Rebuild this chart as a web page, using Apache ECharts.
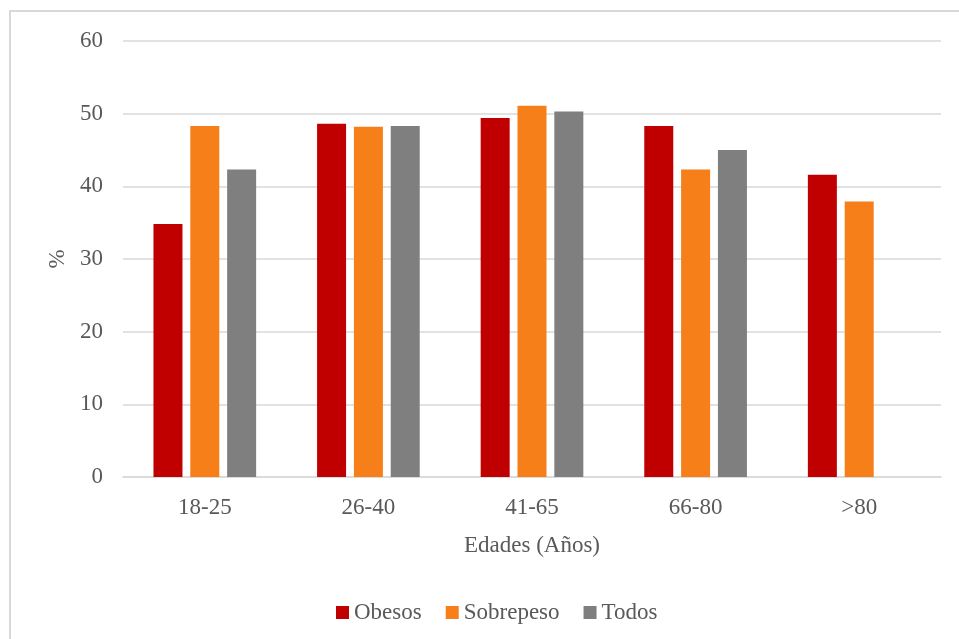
<!DOCTYPE html>
<html>
<head>
<meta charset="utf-8">
<script src="https://cdn.jsdelivr.net/npm/echarts@6/dist/echarts.min.js"></script>
<style>
  html, body { margin: 0; padding: 0; background: #ffffff; }
  #chart { width: 959px; height: 639px; }
</style>
</head>
<body>
<div id="chart"></div>
<script>
// Age groups and percentages per group
const categories = ['18-25', '26-40', '41-65', '66-80', '>80'];
const obesos = [34.8, 48.6, 49.4, 48.3, 41.6];
const sobrepeso = [48.3, 48.2, 51.1, 42.3, 37.9];
const todos = [42.3, 48.3, 50.3, 45.0, null];
const yTicks = { min: 0, max: 60, interval: 10 };

const FONT = '"Liberation Serif", "Times New Roman", serif';
const FS = 23;
const TEXT = '#595959';
const LINE = '#d9d9d9';

const chart = echarts.init(document.getElementById('chart'), null, { renderer: 'canvas' });

chart.setOption({
  backgroundColor: '#ffffff',
  animation: false,
  graphic: [{
    type: 'rect',
    shape: { x: 10, y: 11, width: 1000, height: 700 },
    style: { fill: 'none', stroke: LINE, lineWidth: 2 },
    silent: true
  }],
  grid: { left: 123, right: 18, top: 41, bottom: 162 },
  legend: {
    left: 331, top: 596,
    itemWidth: 13, itemHeight: 13, itemGap: 24,
    icon: 'rect',
    textStyle: { fontFamily: FONT, fontSize: FS, color: TEXT },
    data: ['Obesos', 'Sobrepeso', 'Todos']
  },
  xAxis: {
    type: 'category',
    data: categories,
    name: 'Edades (Años)',
    nameLocation: 'middle',
    nameGap: 57,
    nameTextStyle: { fontFamily: FONT, fontSize: FS, color: TEXT },
    axisLine: { lineStyle: { color: LINE, width: 1.5 } },
    axisTick: { show: false },
    axisLabel: { fontFamily: FONT, fontSize: FS, color: TEXT, margin: 19 }
  },
  yAxis: {
    type: 'value',
    min: yTicks.min, max: yTicks.max, interval: yTicks.interval,
    name: '%',
    nameLocation: 'middle',
    nameGap: 53,
    nameRotate: 90,
    nameTextStyle: { fontFamily: FONT, fontSize: FS, color: TEXT },
    axisLine: { show: false },
    axisTick: { show: false },
    axisLabel: { fontFamily: FONT, fontSize: FS, color: TEXT, margin: 20 },
    splitLine: { lineStyle: { color: LINE, width: 1.5 } }
  },
  series: [
    { name: 'Obesos', type: 'bar', data: obesos, itemStyle: { color: '#c00000' },
      barWidth: 29, barGap: '27%', barCategoryGap: '37%' },
    { name: 'Sobrepeso', type: 'bar', data: sobrepeso, itemStyle: { color: '#f77f19' },
      barWidth: 29, barGap: '27%', barCategoryGap: '37%' },
    { name: 'Todos', type: 'bar', data: todos, itemStyle: { color: '#7f7f7f' },
      barWidth: 29, barGap: '27%', barCategoryGap: '37%' }
  ]
});
</script>
</body>
</html>
